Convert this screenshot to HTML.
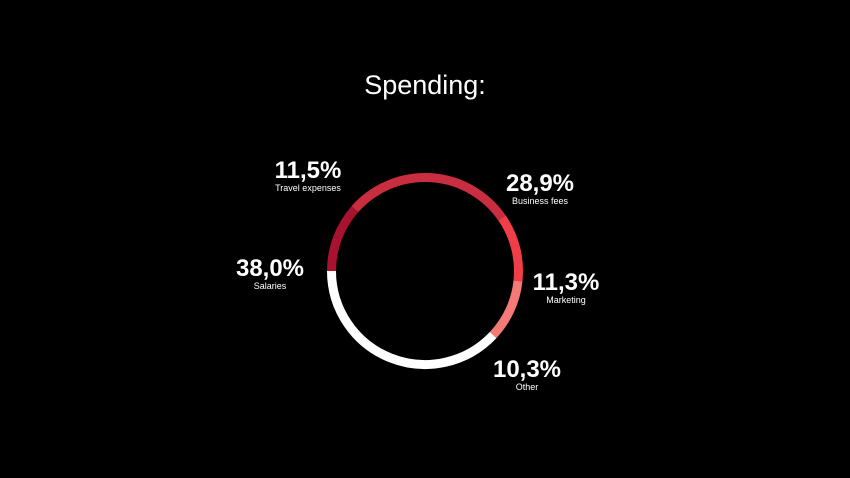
<!DOCTYPE html>
<html><head><meta charset="utf-8"><style>
html,body{margin:0;padding:0;background:#000;}
svg{display:block}
.v{font-family:"Liberation Sans",sans-serif;font-weight:bold;font-size:24px;fill:#fff;text-anchor:middle}
.l{font-family:"Liberation Sans",sans-serif;font-size:9px;fill:#fff;text-anchor:middle}
</style></head><body>
<svg id="c" width="850" height="478" viewBox="0 0 850 478">
<rect width="850" height="478" fill="#000"/>
<text x="425" y="94" text-anchor="middle" font-family="Liberation Sans, sans-serif" font-size="27" fill="#fff">Spending:</text>
<g id="ring"></g>
<g id="labels"></g>
</svg>
<script>
const categories = ["Travel expenses","Business fees","Marketing","Other","Salaries"];
const values = [11.5, 28.9, 11.3, 10.3, 38.0];
const printed = ["11,5%","28,9%","11,3%","10,3%","38,0%"];
const colors = ["#a8122f","#c82d40","#f03e48","#f47a78","#ffffff"];
const labelPos = [[308,178],[540,191],[566,290],[527,377],[270,276]];
const cx=425, cy=271, r=93.5, startDeg=270;
const ns="http://www.w3.org/2000/svg";
const total=values.reduce((a,b)=>a+b,0);
function pt(deg){const a=deg*Math.PI/180;return [cx+r*Math.sin(a), cy-r*Math.cos(a)];}
let ang=startDeg;
const ring=document.getElementById('ring'), labels=document.getElementById('labels');
values.forEach((v,i)=>{
  const sweep=v/total*360;
  const p0=pt(ang), p1=pt(ang+sweep);
  const path=document.createElementNS(ns,'path');
  path.setAttribute('d',`M${p0[0]},${p0[1]} A${r},${r} 0 ${sweep>180?1:0} 1 ${p1[0]},${p1[1]}`);
  path.setAttribute('fill','none');path.setAttribute('stroke',colors[i]);path.setAttribute('stroke-width','9');
  
  
  ring.appendChild(path);
  ang+=sweep;
  const t=document.createElementNS(ns,'text');
  t.setAttribute('class','v');t.setAttribute('x',labelPos[i][0]);t.setAttribute('y',labelPos[i][1]);t.textContent=printed[i];
  
  
  labels.appendChild(t);
  const s=document.createElementNS(ns,'text');
  s.setAttribute('class','l');s.setAttribute('x',labelPos[i][0]);s.setAttribute('y',labelPos[i][1]+13);s.textContent=categories[i];
  
  
  labels.appendChild(s);
});
</script>
</body></html>
